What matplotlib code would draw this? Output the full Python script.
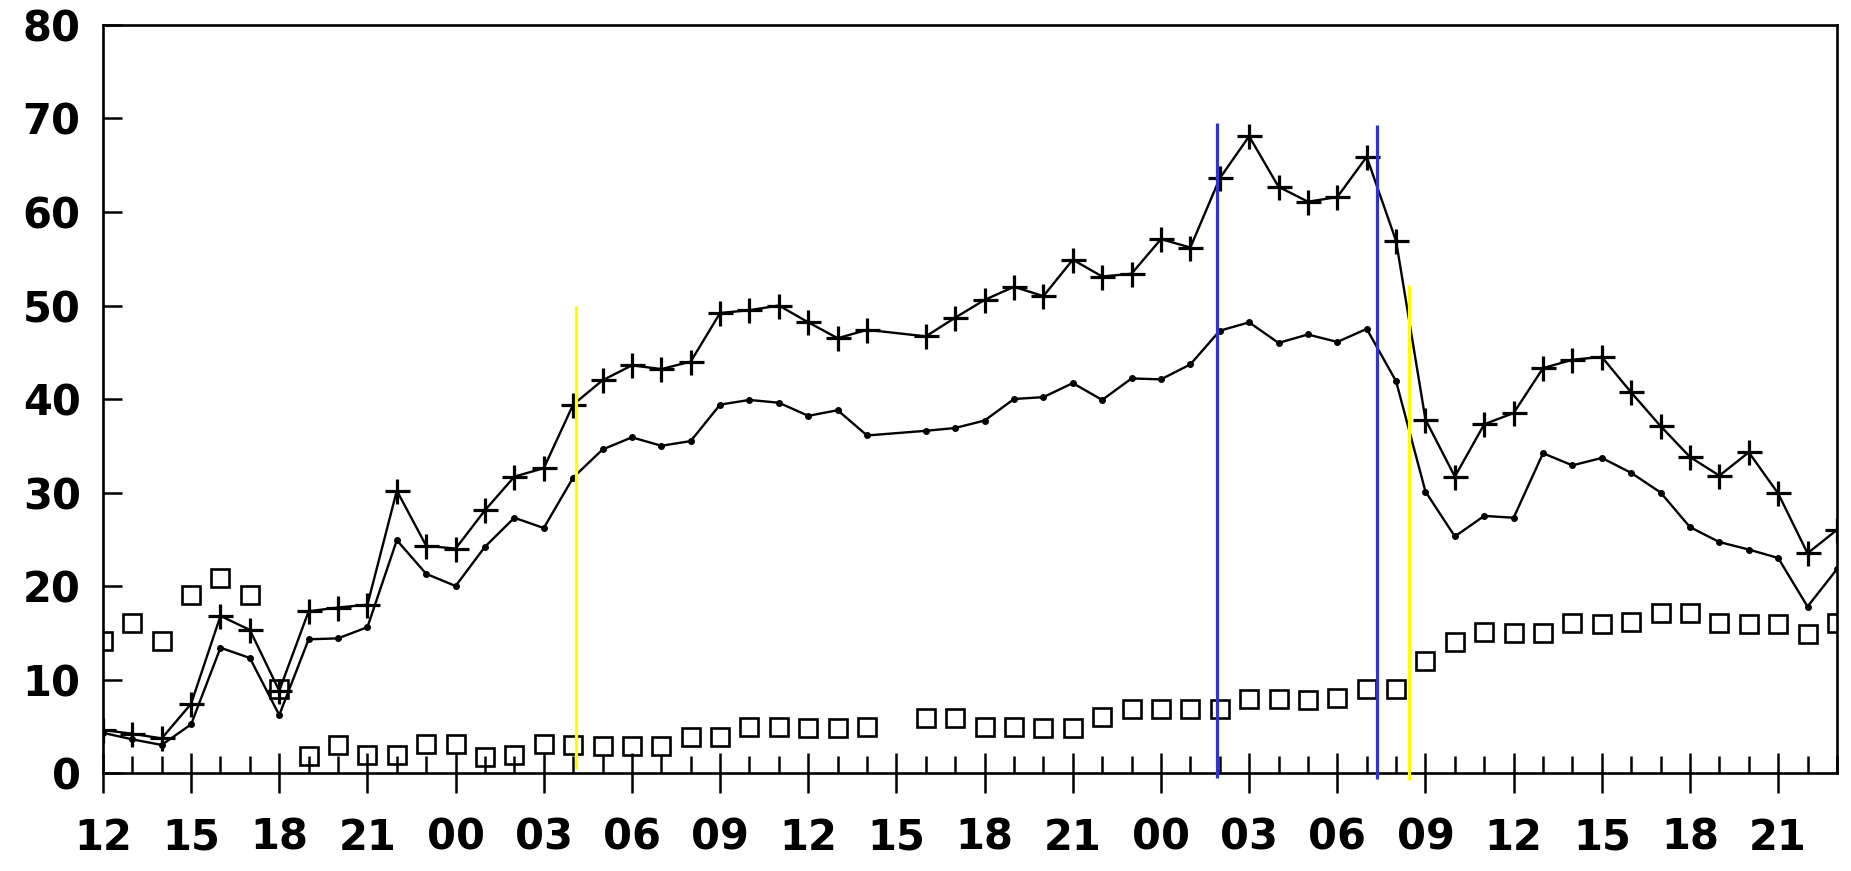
import matplotlib
matplotlib.use("Agg")
import matplotlib.pyplot as plt
from matplotlib.ticker import MultipleLocator

plt.rcParams['font.family'] = ['DejaVu Sans']

# Hours elapsed since 12:00 on the first day (no reading at hour 27)
hours = list(range(0, 27)) + list(range(28, 60))

# Upper series (plus markers)
plus_vals = [4.6, 4.2, 3.7, 7.4, 16.8, 15.3, 8.8, 17.3, 17.7, 18.0,
             30.2, 24.3, 24.0, 28.1, 31.7, 32.6, 39.4, 42.0, 43.6, 43.2,
             44.0, 49.2, 49.5, 50.0, 48.2, 46.5, 47.4,
             46.7, 48.7, 50.6, 52.0, 51.0, 54.9, 53.1, 53.4, 57.1, 56.2,
             63.6, 68.1, 62.7, 61.1, 61.6, 65.9, 56.9, 37.8, 31.7, 37.3,
             38.5, 43.3, 44.2, 44.5, 40.7, 37.1, 33.8, 31.8, 34.3, 29.9,
             23.5, 26.0]

# Middle series (small dots)
dot_vals = [4.3, 3.6, 3.0, 5.2, 13.4, 12.3, 6.2, 14.3, 14.4, 15.6,
            24.9, 21.3, 20.0, 24.2, 27.3, 26.2, 31.6, 34.6, 35.9, 35.0,
            35.5, 39.4, 39.9, 39.6, 38.2, 38.8, 36.1,
            36.6, 36.9, 37.7, 40.0, 40.2, 41.7, 39.9, 42.2, 42.1, 43.7,
            47.3, 48.2, 46.0, 46.9, 46.1, 47.5, 41.9, 30.1, 25.3, 27.5,
            27.3, 34.2, 32.9, 33.7, 32.1, 30.0, 26.3, 24.7, 23.9, 23.0,
            17.8, 21.8]

# Lower series (open squares, no connecting line)
square_vals = [14.1, 16.0, 14.1, 19.0, 20.9, 19.0, 9.0, 1.8, 3.0, 1.9,
               1.9, 3.1, 3.05, 1.75, 1.9, 3.1, 3.0, 2.9, 2.85, 2.9,
               3.9, 3.8, 4.9, 4.9, 4.8, 4.8, 4.9,
               5.9, 5.9, 4.9, 4.9, 4.85, 4.8, 6.0, 6.85, 6.8, 6.8,
               6.8, 7.9, 7.9, 7.8, 8.0, 9.0, 8.95, 12.0, 14.0, 15.1,
               15.0, 15.0, 16.0, 15.95, 16.1, 17.1, 17.1, 16.0, 15.9, 15.9,
               14.9, 16.0]

# Axis ticks and labels
x_tick_hours = list(range(0, 58, 3))
x_tick_labels = ['12', '15', '18', '21', '00', '03', '06', '09',
                 '12', '15', '18', '21', '00', '03', '06', '09',
                 '12', '15', '18', '21']
y_ticks = list(range(0, 81, 10))

# Event markers: hour position, bottom and top value
yellow_hours = [16.1, 44.45]
yellow_bottom = [0.4, -0.7]
yellow_top = [49.9, 52.2]
blue_hours = [37.9, 43.35]
blue_bottom = [-0.5, -0.6]
blue_top = [69.5, 69.3]

fig = plt.figure(figsize=(18.51, 8.71), dpi=100)
ax = fig.add_axes([0.0556, 0.1125, 0.9368, 0.8588])

ax.plot(hours, plus_vals, color='black', lw=1.7, marker='+', ms=18, mew=2.3, zorder=3)
ax.plot(hours, dot_vals, color='black', lw=1.7, marker='o', ms=4, zorder=3)
ax.plot(hours, square_vals, ls='none', marker='s', ms=13.5, mfc='none',
        mec='black', mew=1.9, zorder=3)

ax.vlines(yellow_hours, yellow_bottom, yellow_top, colors='#ffff00', lw=2.3,
          zorder=4, clip_on=False)
ax.vlines(blue_hours, blue_bottom, blue_top, colors='#3333cc', lw=2.3,
          zorder=4, clip_on=False)

ax.set_xlim(0, 59)
ax.set_ylim(0, 80)

ax.set_xticks(x_tick_hours)
ax.set_xticklabels(x_tick_labels, fontsize=30, fontweight='bold')
ax.xaxis.set_minor_locator(MultipleLocator(1))
ax.set_yticks(y_ticks)
ax.set_yticklabels([str(v) for v in y_ticks], fontsize=30, fontweight='bold')

ax.tick_params(axis='x', which='major', direction='inout', length=29, width=1.8,
               pad=17, colors='black')
ax.tick_params(axis='x', which='minor', direction='in', length=12, width=1.8)
ax.tick_params(axis='y', which='major', direction='in', length=14, width=1.8, pad=16)

for side in ['left', 'right', 'top', 'bottom']:
    ax.spines[side].set_linewidth(1.9)
    ax.spines[side].set_color('black')

fig.savefig('out.png', dpi=100, facecolor='white')
